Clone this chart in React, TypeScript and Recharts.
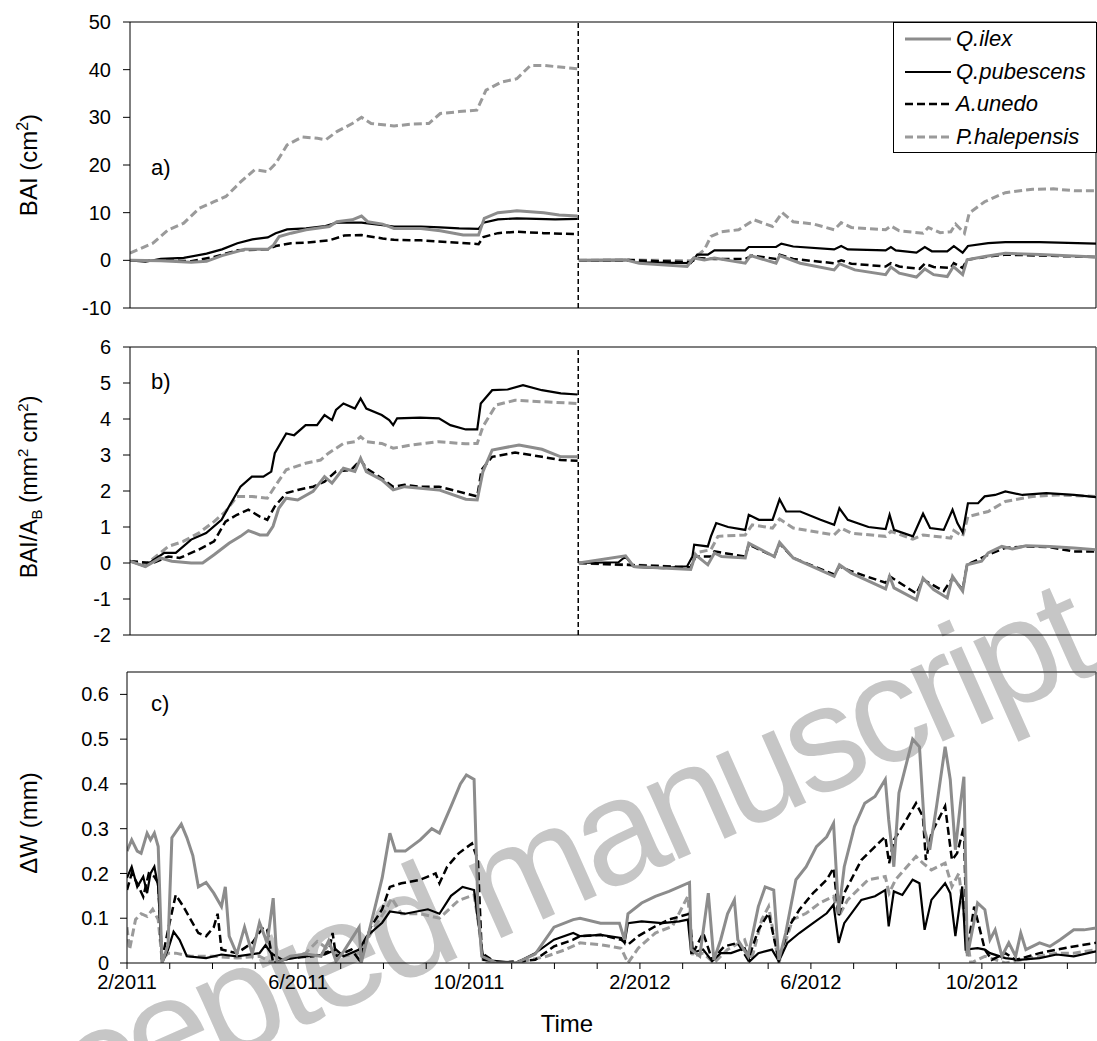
import React from 'react';
import { LineChart, Line, XAxis, YAxis, ReferenceLine } from 'recharts';

type Pt = [number, number];

// x is months after 1 Feb 2011
const speciesNames = ['Q.ilex', 'Q.pubescens', 'A.unedo', 'P.halepensis'];

// a) BAI (cm2), two growth years
const baiIlex2011: Pt[] = [[0,0],[0.7,-0.1],[1.39,-0.4],[1.74,-0.2],[2.09,1.0],[2.61,2.3],[3.13,2.3],[3.26,3.2],[3.39,5.0],[3.66,5.7],[4.0,6.4],[4.53,7.1],[4.7,8.1],[5.05,8.5],[5.26,9.3],[5.4,8.1],[5.74,7.6],[6.0,6.7],[6.61,6.7],[7.05,6.2],[7.57,5.3],[7.92,5.3],[8.05,8.8],[8.36,10.0],[8.79,10.4],[9.4,10.0],[9.75,9.5],[10.17,9.3]];
const baiPub2011: Pt[] = [[0,0],[0.35,-0.3],[0.7,0.3],[1.22,0.5],[1.74,1.4],[2.09,2.3],[2.44,3.6],[2.78,4.4],[3.13,4.8],[3.31,5.7],[3.57,6.5],[4.0,6.7],[4.44,7.2],[4.7,7.9],[5.26,7.9],[5.74,7.4],[6.0,7.1],[6.61,7.1],[7.05,6.9],[7.48,6.7],[7.92,6.6],[8.03,7.9],[8.36,8.6],[8.79,8.8],[9.23,8.7],[9.66,8.6],[10.17,8.7]];
const baiUnedo2011: Pt[] = [[0,0],[0.7,0],[1.39,-0.2],[1.91,0.7],[2.44,2.1],[3.13,2.3],[3.31,3.0],[3.66,3.6],[4.0,3.7],[4.53,4.2],[4.87,5.2],[5.26,5.3],[5.74,4.6],[6.0,4.3],[6.61,4.2],[7.48,3.7],[7.92,3.4],[8.03,4.9],[8.36,5.7],[8.79,6.0],[9.4,5.7],[10.17,5.5]];
const baiHale2011: Pt[] = [[0,1.5],[0.52,3.6],[0.87,6.4],[1.22,7.8],[1.57,10.9],[1.91,12.3],[2.18,13.4],[2.52,16.5],[2.83,19.0],[3.13,18.6],[3.31,20.3],[3.57,24.2],[3.92,25.9],[4.26,25.6],[4.45,25.3],[4.7,27],[5.05,28.7],[5.26,30],[5.48,28.7],[6.0,28.2],[6.44,28.6],[6.79,28.7],[7.05,30.8],[7.48,31.2],[7.88,31.5],[8.09,35.7],[8.44,37.4],[8.79,38.1],[9.1,40.9],[9.4,40.9],[9.92,40.4],[10.17,40.2]];
const baiIlex2012: Pt[] = [[10.2,0],[11.26,0.1],[11.57,-0.6],[12.66,-1.3],[12.81,0.5],[13.05,0.1],[13.28,0.5],[13.98,-0.6],[14.1,1.0],[14.68,-0.6],[14.76,1.0],[15.23,-0.6],[16.0,-2.0],[16.12,-0.7],[16.47,-2.0],[17.17,-3.0],[17.29,-1.4],[17.48,-2.7],[17.87,-3.5],[18.06,-1.8],[18.26,-3.0],[18.57,-3.4],[18.71,-1.3],[18.92,-3.0],[19.02,0.1],[19.42,0.8],[19.89,1.5],[20.67,1.2],[21.95,0.7]];
const baiPub2012: Pt[] = [[10.2,0],[11.18,0],[11.34,0.1],[11.49,-0.4],[12.74,-0.6],[12.89,1.2],[13.13,1.2],[13.28,2.1],[13.98,2.1],[14.06,2.8],[14.68,2.8],[14.8,3.5],[15.07,2.9],[16.0,2.3],[16.16,3.0],[16.31,2.3],[17.17,2.1],[17.29,2.8],[17.4,2.1],[17.87,1.6],[18.06,2.8],[18.22,1.9],[18.57,1.9],[18.72,3.0],[18.92,1.6],[19.04,3.0],[19.5,3.6],[19.89,3.8],[20.67,3.8],[21.95,3.5]];
const baiUnedo2012: Pt[] = [[10.2,0],[11.5,0],[12.74,-0.4],[12.89,0.5],[13.28,0.3],[13.98,0.3],[14.14,1.0],[14.68,0.3],[14.76,1.2],[15.07,0.3],[16.0,-0.6],[16.16,0],[16.39,-0.7],[17.17,-1.3],[17.29,-0.6],[17.48,-1.3],[17.94,-1.8],[18.06,-0.7],[18.26,-1.4],[18.65,-1.6],[18.72,-0.6],[18.92,-1.6],[19.02,0.1],[19.42,0.7],[19.89,1.2],[20.67,1.0],[21.95,0.7]];
const baiHale2012: Pt[] = [[10.2,0],[11.34,0.1],[12.74,-0.1],[13.05,2.2],[13.2,5.0],[13.44,6.0],[13.83,6.4],[14.18,8.5],[14.6,7.1],[14.82,10.0],[15.07,8.1],[15.54,7.6],[16.0,6.4],[16.16,7.9],[16.39,6.9],[17.17,6.4],[17.29,7.2],[17.48,6.2],[18.02,5.7],[18.14,6.9],[18.41,5.8],[18.65,6.0],[18.76,7.6],[18.96,5.7],[19.07,9.9],[19.42,12.3],[19.89,14.2],[20.51,14.9],[20.98,15.0],[21.45,14.6],[21.95,14.6]];

// b) BAI/AB (mm2 cm-2)
const relIlex2011: Pt[] = [[0,0.05],[0.35,-0.1],[0.69,0.14],[0.95,0.05],[1.39,0],[1.65,0],[1.91,0.23],[2.25,0.55],[2.51,0.74],[2.69,0.9],[2.95,0.78],[3.12,0.78],[3.25,1.02],[3.38,1.52],[3.55,1.8],[3.81,1.75],[4.16,1.99],[4.42,2.4],[4.59,2.22],[4.85,2.63],[5.11,2.54],[5.24,2.91],[5.37,2.54],[5.72,2.31],[5.98,2.03],[6.24,2.12],[7.02,2.03],[7.63,1.77],[7.89,1.75],[8.02,2.54],[8.23,3.14],[8.84,3.28],[9.36,3.16],[9.79,2.95],[10.17,2.95]];
const relPub2011: Pt[] = [[0,0.05],[0.35,-0.1],[0.52,0.07],[0.78,0.28],[1.04,0.28],[1.39,0.65],[1.73,0.83],[2.08,1.2],[2.25,1.57],[2.51,2.12],[2.77,2.4],[3.03,2.4],[3.21,2.54],[3.29,3.05],[3.55,3.6],[3.73,3.55],[3.99,3.83],[4.25,3.83],[4.42,4.11],[4.59,3.97],[4.68,4.25],[4.85,4.43],[5.11,4.29],[5.24,4.57],[5.37,4.29],[5.72,4.11],[5.89,3.97],[5.98,3.83],[6.07,4.02],[6.59,4.04],[7.02,4.02],[7.28,3.83],[7.63,3.71],[7.89,3.71],[7.97,4.43],[8.23,4.8],[8.58,4.82],[8.93,4.94],[9.36,4.8],[9.79,4.71],[10.17,4.68]];
const relUnedo2011: Pt[] = [[0,0.05],[0.52,0],[0.87,0.18],[1.13,0.14],[1.56,0.37],[1.91,0.6],[2.17,1.15],[2.43,1.34],[2.69,1.48],[2.95,1.29],[3.12,1.2],[3.29,1.57],[3.55,1.94],[3.81,2.03],[4.16,2.12],[4.42,2.26],[4.68,2.54],[5.03,2.59],[5.24,2.86],[5.37,2.63],[5.72,2.35],[5.98,2.12],[6.24,2.17],[6.59,2.12],[7.02,2.12],[7.45,1.99],[7.89,1.85],[7.99,2.59],[8.23,2.95],[8.75,3.07],[9.36,2.95],[9.79,2.86],[10.17,2.84]];
const relHale2011: Pt[] = [[0,0.05],[0.35,-0.05],[0.69,0.28],[0.87,0.46],[1.21,0.6],[1.56,0.83],[1.91,1.15],[2.17,1.43],[2.43,1.85],[2.77,1.85],[3.12,1.8],[3.29,2.12],[3.55,2.59],[3.99,2.77],[4.33,2.86],[4.51,3.05],[4.85,3.32],[5.11,3.37],[5.24,3.51],[5.37,3.37],[5.72,3.32],[5.98,3.19],[6.41,3.28],[7.02,3.37],[7.63,3.31],[7.89,3.32],[8.02,3.79],[8.32,4.39],[8.75,4.52],[9.36,4.48],[10.17,4.43]];
const relIlex2012: Pt[] = [[10.2,0],[11.26,0.2],[11.45,-0.1],[12.74,-0.18],[12.85,0.23],[13.13,-0.05],[13.28,0.28],[13.44,0.18],[13.98,0.14],[14.06,0.55],[14.64,0.18],[14.76,0.57],[15.07,0.14],[16.0,-0.37],[16.12,-0.05],[16.39,-0.28],[17.17,-0.72],[17.26,-0.37],[17.36,-0.69],[17.87,-1.02],[18.02,-0.42],[18.26,-0.74],[18.57,-0.97],[18.69,-0.37],[18.92,-0.78],[19.02,-0.05],[19.35,0.05],[19.5,0.28],[19.81,0.46],[20.05,0.39],[20.36,0.48],[20.9,0.46],[21.45,0.42],[21.95,0.37]];
const relPub2012: Pt[] = [[10.2,0],[11.1,0.02],[11.26,0.18],[11.45,-0.11],[12.12,-0.14],[12.66,-0.09],[12.78,0.18],[12.82,0.51],[13.13,0.46],[13.2,0.74],[13.32,1.11],[13.59,1.0],[13.98,0.92],[14.06,1.34],[14.29,1.2],[14.6,1.2],[14.76,1.77],[14.91,1.43],[15.23,1.43],[15.69,1.2],[16.0,1.06],[16.12,1.52],[16.31,1.2],[16.78,1.0],[17.17,0.94],[17.26,1.34],[17.36,0.92],[17.79,0.74],[18.02,1.37],[18.18,0.97],[18.49,0.92],[18.69,1.48],[18.8,1.11],[18.92,0.85],[19.04,1.66],[19.27,1.66],[19.42,1.85],[19.66,1.89],[19.89,1.99],[20.28,1.89],[20.82,1.94],[21.45,1.89],[21.95,1.83]];
const relUnedo2012: Pt[] = [[10.2,0],[12.74,-0.12],[12.85,0.18],[13.2,0.18],[13.28,0.32],[13.98,0.18],[14.06,0.51],[14.64,0.18],[14.76,0.54],[15.07,0.14],[16.0,-0.32],[16.12,-0.09],[16.39,-0.23],[17.17,-0.55],[17.26,-0.37],[17.87,-0.85],[18.02,-0.46],[18.49,-0.78],[18.69,-0.42],[18.92,-0.74],[19.02,-0.05],[19.5,0.23],[19.89,0.42],[20.36,0.46],[20.9,0.44],[21.45,0.32],[21.95,0.32]];
const relHale2012: Pt[] = [[10.2,0],[12.12,-0.09],[12.74,-0.14],[12.85,0.28],[13.2,0.37],[13.36,0.74],[13.98,0.78],[14.14,1.06],[14.6,0.97],[14.76,1.22],[15.07,0.97],[16.0,0.78],[16.16,0.97],[16.39,0.83],[17.17,0.74],[17.29,0.88],[17.79,0.66],[18.02,0.78],[18.65,0.69],[18.72,0.9],[18.92,0.74],[19.04,1.29],[19.5,1.43],[19.89,1.71],[20.51,1.85],[21.06,1.89],[21.95,1.85]];

// c) ΔW (mm)
const dwIlex: Pt[] = [[0,0.25],[0.11,0.275],[0.24,0.25],[0.33,0.245],[0.47,0.29],[0.55,0.275],[0.64,0.29],[0.73,0.26],[0.82,0],[0.96,0.04],[1.05,0.28],[1.27,0.31],[1.4,0.28],[1.54,0.24],[1.67,0.17],[1.85,0.18],[2.03,0.156],[2.21,0.126],[2.3,0.17],[2.39,0.06],[2.57,0.02],[2.75,0.08],[2.93,0.02],[3.1,0.09],[3.28,0.045],[3.42,0.145],[3.51,0],[3.82,0.015],[4.18,0.02],[4.54,0.015],[4.72,0.05],[4.89,0.004],[5.07,0.026],[5.43,0.08],[5.48,0],[5.79,0.12],[5.97,0.19],[6.15,0.29],[6.28,0.25],[6.51,0.25],[6.86,0.275],[7.13,0.3],[7.31,0.29],[7.58,0.35],[7.8,0.4],[7.94,0.42],[8.12,0.41],[8.21,0.126],[8.3,0.015],[8.65,0],[9.1,0],[9.55,0.02],[9.99,0.08],[10.44,0.097],[10.6,0.1],[11.08,0.089],[11.52,0.089],[11.64,0.052],[11.72,0.11],[12.04,0.134],[12.36,0.149],[12.68,0.16],[13.16,0.18],[13.2,0.03],[13.4,0.015],[13.6,0.156],[13.73,0.007],[13.89,0.052],[14.05,0.11],[14.21,0.141],[14.29,0.052],[14.53,0.015],[14.77,0.126],[14.93,0.17],[15.13,0.163],[15.25,0.007],[15.41,0.067],[15.65,0.186],[15.89,0.215],[16.13,0.26],[16.37,0.282],[16.53,0.312],[16.65,0.11],[16.78,0.215],[17.02,0.305],[17.26,0.357],[17.5,0.372],[17.74,0.41],[17.82,0.32],[17.94,0.215],[18.06,0.38],[18.38,0.5],[18.54,0.483],[18.66,0.297],[18.78,0.253],[18.94,0.35],[19.14,0.483],[19.26,0.41],[19.38,0.253],[19.5,0.357],[19.58,0.416],[19.66,0.015],[19.9,0.134],[20.07,0.119],[20.19,0.052],[20.31,0.074],[20.47,0.015],[20.63,0.045],[20.79,0.015],[20.91,0.067],[21.03,0.03],[21.35,0.045],[21.59,0.037],[21.83,0.052],[22.15,0.074],[22.39,0.074],[22.67,0.078]];
const dwPub: Pt[] = [[0,0.19],[0.11,0.215],[0.24,0.17],[0.38,0.193],[0.47,0.156],[0.55,0.2],[0.64,0.215],[0.73,0.17],[0.82,0],[0.96,0.03],[1.09,0.07],[1.23,0.052],[1.4,0.015],[1.85,0.011],[2.21,0.019],[2.57,0.015],[3.1,0.022],[3.24,0.04],[3.37,0.022],[3.64,0.007],[4.18,0.015],[4.63,0.019],[4.89,0.03],[5.07,0.015],[5.43,0.03],[5.61,0.06],[5.97,0.09],[6.15,0.115],[6.51,0.11],[7.04,0.12],[7.31,0.11],[7.58,0.15],[7.85,0.17],[8.12,0.163],[8.21,0.097],[8.34,0.007],[9.1,0],[9.55,0.022],[9.99,0.052],[10.44,0.067],[10.6,0.06],[11.08,0.063],[11.56,0.056],[11.64,0.045],[11.72,0.089],[12.04,0.093],[12.52,0.089],[12.92,0.093],[13.12,0.097],[13.2,0.022],[13.48,0.03],[13.69,0.004],[13.89,0.022],[14.13,0.022],[14.45,0.033],[14.57,0.004],[14.77,0.022],[15.09,0.03],[15.25,0.004],[15.45,0.045],[15.73,0.067],[16.05,0.089],[16.37,0.111],[16.53,0.13],[16.65,0.045],[16.78,0.089],[17.18,0.141],[17.5,0.149],[17.74,0.163],[17.82,0.082],[17.94,0.16],[18.14,0.152],[18.38,0.186],[18.54,0.178],[18.66,0.074],[18.82,0.141],[19.14,0.178],[19.26,0.156],[19.38,0.06],[19.54,0.171],[19.62,0.03],[19.9,0.033],[20.07,0.03],[20.19,0.022],[20.55,0.011],[20.87,0.007],[21.35,0.011],[21.75,0.019],[22.15,0.015],[22.67,0.026]];
const dwUnedo: Pt[] = [[0,0.163],[0.11,0.2],[0.24,0.178],[0.38,0.148],[0.51,0.2],[0.64,0.193],[0.73,0.178],[0.82,0.007],[0.96,0.074],[1.14,0.152],[1.32,0.126],[1.49,0.097],[1.67,0.067],[1.85,0.06],[2.03,0.08],[2.12,0.11],[2.21,0.03],[2.57,0.022],[2.93,0.045],[3.19,0.08],[3.28,0.074],[3.42,0],[3.82,0.011],[4.36,0.015],[4.72,0.026],[4.81,0.067],[4.89,0.015],[5.25,0.03],[5.43,0.007],[5.7,0.08],[5.97,0.12],[6.15,0.17],[6.42,0.178],[6.86,0.186],[7.22,0.2],[7.31,0.178],[7.49,0.215],[7.76,0.245],[8.07,0.267],[8.21,0.23],[8.3,0.022],[8.65,0],[9.55,0.007],[9.99,0.037],[10.44,0.052],[10.6,0.06],[11.08,0.063],[11.56,0.052],[11.72,0.041],[11.96,0.06],[12.36,0.082],[12.68,0.097],[13.16,0.11],[13.24,0.022],[13.48,0.067],[13.69,0.007],[13.97,0.037],[14.29,0.045],[14.53,0.007],[14.77,0.074],[15.01,0.111],[15.25,0.007],[15.49,0.082],[15.73,0.119],[16.05,0.156],[16.37,0.186],[16.53,0.212],[16.65,0.104],[16.78,0.156],[17.18,0.23],[17.5,0.26],[17.74,0.282],[17.83,0.223],[17.94,0.275],[18.14,0.305],[18.46,0.357],[18.62,0.327],[18.69,0.23],[18.82,0.29],[19.14,0.35],[19.3,0.23],[19.42,0.245],[19.58,0.305],[19.65,0.022],[19.82,0.126],[20.07,0.03],[20.23,0.007],[20.55,0.022],[20.79,0.007],[21.35,0.022],[21.75,0.03],[22.15,0.037],[22.67,0.045]];
const dwHale: Pt[] = [[0,0.08],[0.06,0.03],[0.2,0.097],[0.33,0.11],[0.47,0.104],[0.6,0.12],[0.73,0.097],[0.82,0.007],[0.96,0.022],[1.14,0.022],[1.49,0.015],[2.03,0.015],[2.57,0.011],[3.1,0.015],[3.42,0],[4.18,0.022],[4.45,0.048],[4.72,0.03],[5.07,0.015],[5.43,0.022],[5.79,0.08],[6.06,0.12],[6.19,0.145],[6.42,0.11],[6.86,0.11],[7.31,0.1],[7.76,0.14],[8.12,0.152],[8.21,0.097],[8.34,0],[9.1,0],[9.82,0.015],[10.26,0.03],[10.6,0.045],[11.08,0.041],[11.56,0.033],[11.72,0],[11.96,0.033],[12.36,0.067],[12.76,0.082],[13.12,0.149],[13.24,0.015],[13.48,0.022],[13.73,0],[14.05,0.03],[14.45,0.052],[14.61,0.007],[14.85,0.097],[15.01,0.126],[15.25,0],[15.57,0.097],[15.89,0.111],[16.21,0.134],[16.53,0.149],[16.65,0.104],[16.86,0.141],[17.34,0.186],[17.74,0.193],[17.83,0.156],[17.98,0.186],[18.46,0.238],[18.62,0.223],[18.82,0.208],[19.14,0.223],[19.3,0.171],[19.46,0.2],[19.62,0.082],[19.74,0],[20.07,0.015],[20.55,0],[21.35,0.015],[21.75,0.022],[22.15,0.022],[22.67,0.03]];

const monthTicksAB = Array.from({ length: 22 }, (_, i) => i);
const monthTicksC = Array.from({ length: 23 }, (_, i) => i);
const xLabelMonths = [0, 4, 8, 12, 16, 20];
const xLabels = ['2/2011', '6/2011', '10/2011', '2/2012', '6/2012', '10/2012'];
const baiTicks = [-10, 0, 10, 20, 30, 40, 50];
const relTicks = [-2, -1, 0, 1, 2, 3, 4, 5, 6];
const dwTicks = [0, 0.1, 0.2, 0.3, 0.4, 0.5, 0.6];

const yearBreak = 10.185;
const xMaxAB = 21.95;
const xMaxC = 22.67;

const lineStyle: Record<string, { stroke: string; strokeWidth: number; strokeDasharray?: string }> = {
  'Q.ilex': { stroke: '#8c8c8c', strokeWidth: 3 },
  'Q.pubescens': { stroke: '#000000', strokeWidth: 2.2 },
  'A.unedo': { stroke: '#000000', strokeWidth: 2.5, strokeDasharray: '8 4' },
  'P.halepensis': { stroke: '#9a9a9a', strokeWidth: 3, strokeDasharray: '8 4' },
};
const drawOrder = ['P.halepensis', 'A.unedo', 'Q.pubescens', 'Q.ilex'];

const rows = (pts: Pt[]) => pts.map(([t, v]) => ({ t, v }));
const twoYears = (a: Pt[], b: Pt[]) => [...rows(a), { t: yearBreak, v: null }, ...rows(b)];

const baiData: Record<string, any[]> = {
  'Q.ilex': twoYears(baiIlex2011, baiIlex2012),
  'Q.pubescens': twoYears(baiPub2011, baiPub2012),
  'A.unedo': twoYears(baiUnedo2011, baiUnedo2012),
  'P.halepensis': twoYears(baiHale2011, baiHale2012),
};
const relData: Record<string, any[]> = {
  'Q.ilex': twoYears(relIlex2011, relIlex2012),
  'Q.pubescens': twoYears(relPub2011, relPub2012),
  'A.unedo': twoYears(relUnedo2011, relUnedo2012),
  'P.halepensis': twoYears(relHale2011, relHale2012),
};
const dwData: Record<string, any[]> = {
  'Q.ilex': rows(dwIlex),
  'Q.pubescens': rows(dwPub),
  'A.unedo': rows(dwUnedo),
  'P.halepensis': rows(dwHale),
};

const tickFont = { fill: '#000', fontSize: 20 };
const frame = '#555';

const seriesLines = (data: Record<string, any[]>) =>
  drawOrder.map((name) => (
    <Line
      key={name}
      name={name}
      data={data[name]}
      dataKey="v"
      type="linear"
      dot={false}
      activeDot={false}
      connectNulls={false}
      isAnimationActive={false}
      {...lineStyle[name]}
    />
  ));

const LegendBox = () => (
  <div
    style={{
      position: 'absolute', left: 893, top: 22, width: 204, height: 131,
      border: '1.5px solid #000', boxSizing: 'border-box', background: '#fff',
    }}
  >
    {speciesNames.map((name, i) => (
      <div key={name} style={{ position: 'absolute', left: 0, top: 2 + i * 32.5, height: 28, width: 200 }}>
        <svg width={50} height={28} style={{ position: 'absolute', left: 10, top: 0 }}>
          <line x1={1} x2={47} y1={14} y2={14} {...lineStyle[name]} />
        </svg>
        <span style={{ position: 'absolute', left: 62, top: 0, fontSize: 22, lineHeight: '28px', fontStyle: 'italic', whiteSpace: 'nowrap' }}>
          {name}
        </span>
      </div>
    ))}
  </div>
);

const App: React.FC = () => {
  return (
    <div
      style={{
        position: 'absolute', left: 0, top: 0, width: 1097, height: 1041, background: '#fff',
        fontFamily: '"Liberation Sans", Arial, sans-serif', color: '#000', overflow: 'hidden',
      }}
    >
      <svg width={1097} height={1041} style={{ position: 'absolute', left: 0, top: 0 }}>
        <text
          x={-60}
          y={1188}
          fontSize={150}
          letterSpacing={-7}
          fill="#c6c6c6"
          transform="rotate(-24 -60 1188)"
          fontFamily='"Liberation Sans", Arial, sans-serif'
        >
          Accepted manuscript
        </text>
        <g fill="#000" textAnchor="middle">
          <text x={37} y={165} fontSize={24} transform="rotate(-90 37 165)">
            BAI (cm<tspan dy={-9} fontSize={16}>2</tspan><tspan dy={9}>)</tspan>
          </text>
          <text x={37} y={487} fontSize={23} transform="rotate(-90 37 487)">
            BAI/A<tspan dy={5} fontSize={15}>B</tspan>
            <tspan dy={-5}> (mm</tspan><tspan dy={-9} fontSize={15}>2</tspan>
            <tspan dy={9}> cm</tspan><tspan dy={-9} fontSize={15}>2</tspan><tspan dy={9}>)</tspan>
          </text>
          <text x={37} y={823} fontSize={24} transform="rotate(-90 37 823)">ΔW (mm)</text>
          <text x={567} y={1032} fontSize={24}>Time</text>
        </g>
        <g fontSize={22} fill="#000">
          <text x={151} y={175}>a)</text>
          <text x={151} y={389}>b)</text>
          <text x={151} y={711}>c)</text>
        </g>
      </svg>

      <div style={{ position: 'absolute', left: 0, top: 0 }}>
        <LineChart width={1097} height={318} margin={{ top: 22, right: 1, bottom: 0, left: 70 }}>
          <XAxis
            type="number" dataKey="t" domain={[0, xMaxAB]} ticks={monthTicksAB} allowDataOverflow
            tick={false} tickSize={6} height={10} stroke="#000" interval={0}
          />
          <YAxis
            type="number" domain={[-10, 50]} ticks={baiTicks} width={60} allowDataOverflow
            tick={tickFont} tickSize={7} tickMargin={12} stroke="#000" interval={0}
          />
          <ReferenceLine y={50} stroke={frame} strokeWidth={1.5} />
          <ReferenceLine x={xMaxAB} stroke={frame} strokeWidth={1.5} />
          <ReferenceLine x={yearBreak} stroke="#000" strokeWidth={1.5} strokeDasharray="5 3" />
          {seriesLines(baiData)}
        </LineChart>
      </div>

      <div style={{ position: 'absolute', left: 0, top: 325 }}>
        <LineChart width={1097} height={320} margin={{ top: 22, right: 1, bottom: 0, left: 70 }}>
          <XAxis
            type="number" dataKey="t" domain={[0, xMaxAB]} ticks={monthTicksAB} allowDataOverflow
            tick={false} tickSize={6} height={10} stroke="#000" interval={0}
          />
          <YAxis
            type="number" domain={[-2, 6]} ticks={relTicks} width={60} allowDataOverflow
            tick={tickFont} tickSize={7} tickMargin={12} stroke="#000" interval={0}
          />
          <ReferenceLine y={6} stroke={frame} strokeWidth={1.5} />
          <ReferenceLine x={xMaxAB} stroke={frame} strokeWidth={1.5} />
          <ReferenceLine x={yearBreak} stroke="#000" strokeWidth={1.5} strokeDasharray="5 3" />
          {seriesLines(relData)}
        </LineChart>
      </div>

      <div style={{ position: 'absolute', left: 0, top: 650 }}>
        <LineChart width={1097} height={353} margin={{ top: 22, right: 1, bottom: 0, left: 67 }}>
          <XAxis
            type="number" dataKey="t" domain={[0, xMaxC]} ticks={monthTicksC} allowDataOverflow
            tick={tickFont} tickSize={6} tickMargin={6} height={40} stroke="#000" interval={0}
            tickFormatter={(m: number) => {
              const i = xLabelMonths.indexOf(m);
              return i >= 0 ? xLabels[i] : '';
            }}
          />
          <YAxis
            type="number" domain={[0, 0.65]} ticks={dwTicks} width={60} allowDataOverflow
            tick={tickFont} tickSize={7} tickMargin={11} stroke="#000" interval={0}
            tickFormatter={(v: number) => (v === 0 ? '0' : v.toFixed(1))}
          />
          <ReferenceLine y={0.65} stroke={frame} strokeWidth={1.5} />
          <ReferenceLine x={xMaxC} stroke={frame} strokeWidth={1.5} />
          {seriesLines(dwData)}
        </LineChart>
      </div>

      <LegendBox />
    </div>
  );
};

export default App;
